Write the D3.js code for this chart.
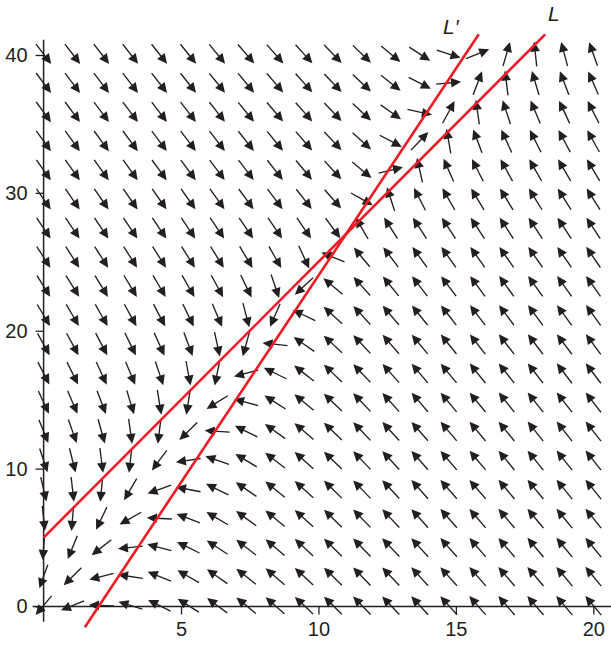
<!DOCTYPE html>
<html>
<head>
<meta charset="utf-8">
<script src="https://cdn.jsdelivr.net/npm/d3@7"></script>
<style>
  body { margin: 0; background: #fff; }
  text { font-family: "Liberation Sans", Arial, Helvetica, sans-serif; fill: #231f20; }
</style>
</head>
<body>
<svg id="chart" width="611" height="645"></svg>
<script>
// Linear system whose nullclines are the two red lines:
//   x' = rates[0] * (y - (lineL[0] * x + lineL[1]))
//   y' = rates[1] * ((lineLp[0] * x + lineLp[1]) - y)
const lineL = [2, 5];      // slope, intercept of L  (x' = 0)
const lineLp = [3, -6];    // slope, intercept of L' (y' = 0)
const rates = [1, 2];
const lineNames = ["L", "L\u2032"];

// sample grid of the direction field
const gridCounts = [20, 20];
const xDomain = [0, 20];
const yDomain = [0, 40];

const xTicks = [5, 10, 15, 20];
const yTicks = [0, 10, 20, 30, 40];

const ink = "#231f20";
const red = "#ee1c25";

const svg = d3.select("#chart");
const x = d3.scaleLinear().domain(xDomain).range([43.6, 593.3]);
const y = d3.scaleLinear().domain(yDomain).range([606.5, 55]);

// axes
const gx = svg.append("g").attr("transform", `translate(0,${y(0)})`)
  .call(d3.axisBottom(x).tickValues(xTicks).tickSize(8).tickPadding(7.5).tickFormat(d3.format("d")));
const gy = svg.append("g").attr("transform", `translate(${x(0)},0)`)
  .call(d3.axisLeft(y).tickValues(yTicks).tickSize(8).tickPadding(8).tickFormat(d3.format("d")));
[gx, gy].forEach(g => {
  g.select(".domain").remove();
  g.selectAll(".tick line").attr("stroke", ink).attr("stroke-width", 1.3);
  g.selectAll(".tick text").style("font-size", "20px").attr("fill", ink);
});
svg.append("line")
  .attr("x1", x(-0.4)).attr("x2", 611).attr("y1", y(0)).attr("y2", y(0))
  .attr("stroke", ink).attr("stroke-width", 1.5);
svg.append("line")
  .attr("x1", x(0)).attr("x2", x(0)).attr("y1", y(-1.1)).attr("y2", y(41.1))
  .attr("stroke", ink).attr("stroke-width", 1.5);

// direction field
const xs = d3.range(gridCounts[0]).map(i => xDomain[0] + i * (xDomain[1] - xDomain[0]) / (gridCounts[0] - 1));
const ys = d3.range(gridCounts[1]).map(j => yDomain[0] + j * (yDomain[1] - yDomain[0]) / (gridCounts[1] - 1));
const field = [];
xs.forEach(px => ys.forEach(py => {
  const u = rates[0] * (py - (lineL[0] * px + lineL[1]));
  const v = rates[1] * ((lineLp[0] * px + lineLp[1]) - py);
  field.push({ px, py, u, v });
}));

const arrowLen = 25, headLen = 10, headHalf = 4.8;
const kx = x(1) - x(0), ky = y(1) - y(0);
const arrows = svg.append("g");
field.forEach(d => {
  let dx = d.u * kx, dy = d.v * ky;
  const n = Math.hypot(dx, dy) || 1;
  dx /= n; dy /= n;
  const cx = x(d.px), cy = y(d.py) - 1;
  const tx = cx - dx * arrowLen / 2, ty = cy - dy * arrowLen / 2;
  const hx = cx + dx * arrowLen / 2, hy = cy + dy * arrowLen / 2;
  const bx = hx - dx * headLen, by = hy - dy * headLen;
  arrows.append("line")
    .attr("x1", tx).attr("y1", ty).attr("x2", bx + dx).attr("y2", by + dy)
    .attr("stroke", ink).attr("stroke-width", 1.35);
  arrows.append("path")
    .attr("d", `M${hx},${hy}L${bx - dy * headHalf},${by + dx * headHalf}L${bx + dy * headHalf},${by - dx * headHalf}Z`)
    .attr("fill", ink);
});

// nullclines, clipped to the plotted band
const yBand = [-1.5, 41.5];
[lineL, lineLp].forEach(([m, c]) => {
  const x0 = Math.max(0, (yBand[0] - c) / m);
  const x1 = (yBand[1] - c) / m;
  svg.append("line")
    .attr("x1", x(x0)).attr("y1", y(m * x0 + c))
    .attr("x2", x(x1)).attr("y2", y(m * x1 + c))
    .attr("stroke", red).attr("stroke-width", 2.6);
});

// line names
svg.append("text").attr("x", 548).attr("y", 21).style("font-size", "21px")
  .style("font-style", "italic").text(lineNames[0]);
svg.append("text").attr("x", 443).attr("y", 33.5).style("font-size", "21px")
  .style("font-style", "italic").text(lineNames[1]);
</script>
</body>
</html>
